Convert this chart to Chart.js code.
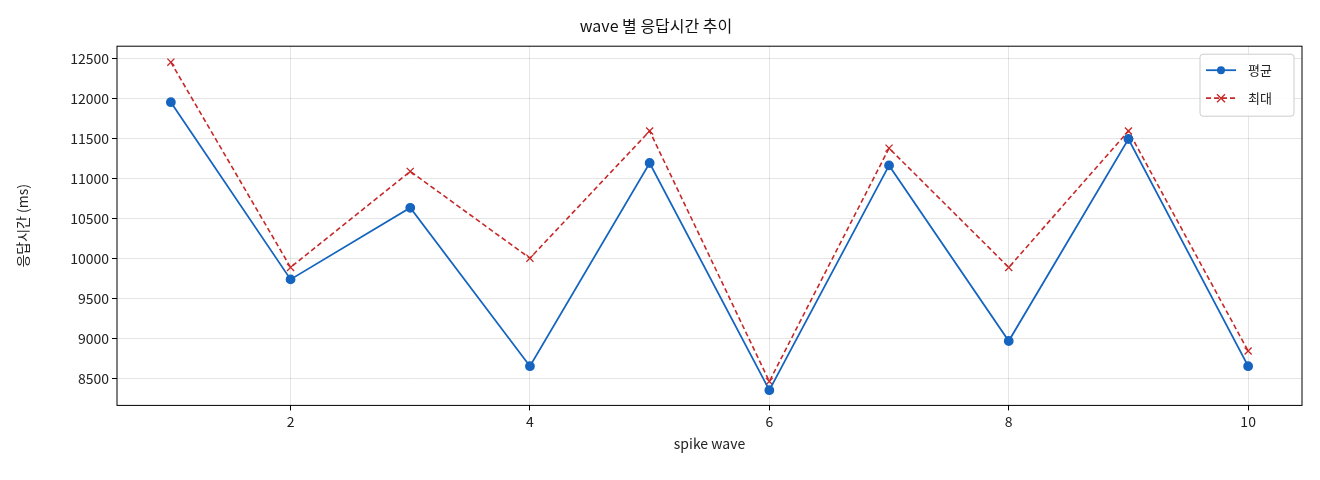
<!DOCTYPE html>
<html><head><meta charset="utf-8">
<script src="https://cdn.jsdelivr.net/npm/chart.js@4"></script>
<style>html,body{margin:0;background:#fff}#w{width:1320px;height:480px}</style>
</head><body><div id="w"><canvas id="c"></canvas></div>
<script>
const waves=[1,2,3,4,5,6,7,8,9,10];
const avgVals=[11950,9735,10630,8650,11190,8350,11160,8965,11490,8650];
const maxVals=[12450,9885,11085,10000,11590,8460,11375,9885,11590,8840];
const xTicks=[2,4,6,8,10];
const FONT='"Noto Sans CJK KR","DejaVu Sans",sans-serif';
Chart.defaults.font.family=FONT;
Chart.defaults.color='#222';
const legendPlugin={id:'lg',afterDraw(ch){
 const c=ch.ctx,a=ch.chartArea;
 c.save();c.strokeStyle='#000';c.lineWidth=1;c.strokeRect(a.left,a.top,a.right-a.left,a.bottom-a.top);
 const w=94,h=62,x=a.right-w-8,y=a.top+8;
 c.fillStyle='rgba(255,255,255,0.85)';c.strokeStyle='#ccc';
 c.beginPath();c.roundRect(x,y,w,h,3);c.fill();c.stroke();
 c.font='13px '+FONT;c.textBaseline='middle';c.fillStyle='#222';
 let yy=y+16;c.strokeStyle='#1565c0';c.lineWidth=1.8;c.setLineDash([]);
 c.beginPath();c.moveTo(x+6,yy);c.lineTo(x+36,yy);c.stroke();
 c.fillStyle='#1565c0';c.beginPath();c.arc(x+21,yy,4,0,Math.PI*2);c.fill();
 c.fillStyle='#222';c.fillText('평균',x+48,yy);
 yy=y+44;c.strokeStyle='#c62828';c.setLineDash([5,3]);
 c.beginPath();c.moveTo(x+6,yy);c.lineTo(x+36,yy);c.stroke();c.setLineDash([]);
 c.lineWidth=1.3;c.beginPath();c.moveTo(x+17,yy-4);c.lineTo(x+25,yy+4);c.moveTo(x+25,yy-4);c.lineTo(x+17,yy+4);c.stroke();
 c.fillStyle='#222';c.fillText('최대',x+48,yy);
 c.restore();
}};
new Chart(document.getElementById('c'),{type:'line',
data:{datasets:[
 {label:'평균',data:waves.map((w,i)=>({x:w,y:avgVals[i]})),borderColor:'#1565c0',backgroundColor:'#1565c0',borderWidth:1.8,pointRadius:4,pointStyle:'circle',tension:0},
 {label:'최대',data:waves.map((w,i)=>({x:w,y:maxVals[i]})),borderColor:'#c62828',backgroundColor:'#c62828',borderWidth:1.6,borderDash:[5,3],pointRadius:5,pointStyle:'cross',pointRotation:45,pointBorderWidth:1.3,tension:0}
]},
options:{responsive:true,maintainAspectRatio:false,animation:false,
 layout:{padding:{left:10,right:18,top:10,bottom:24}},
 plugins:{legend:{display:false},title:{display:true,text:'wave 별 응답시간 추이',font:{size:16,weight:'normal'},color:'#111',padding:{top:6,bottom:11}}},
 scales:{
  x:{type:'linear',min:0.55,max:10.45,afterBuildTicks:s=>{s.ticks=xTicks.map(v=>({value:v}))},
   grid:{color:'rgba(0,0,0,0.1)',drawTicks:true,tickLength:5,tickColor:'#000'},border:{display:false},
   ticks:{font:{size:14},color:'#222'},title:{display:true,text:'spike wave',font:{size:14},color:'#222',padding:{top:2}}},
  y:{min:8160,max:12650,afterBuildTicks:s=>{const t=[];for(let v=8500;v<=12500;v+=500)t.push({value:v});s.ticks=t},
   grid:{color:'rgba(0,0,0,0.1)',tickLength:5,tickColor:'#000'},border:{display:false},
   ticks:{font:{size:14},color:'#222',callback:v=>String(v)},title:{display:true,text:'응답시간 (ms)',font:{size:14},color:'#222'},
   afterFit:s=>{s.width=107}}
 }},
plugins:[legendPlugin]});
</script></body></html>
